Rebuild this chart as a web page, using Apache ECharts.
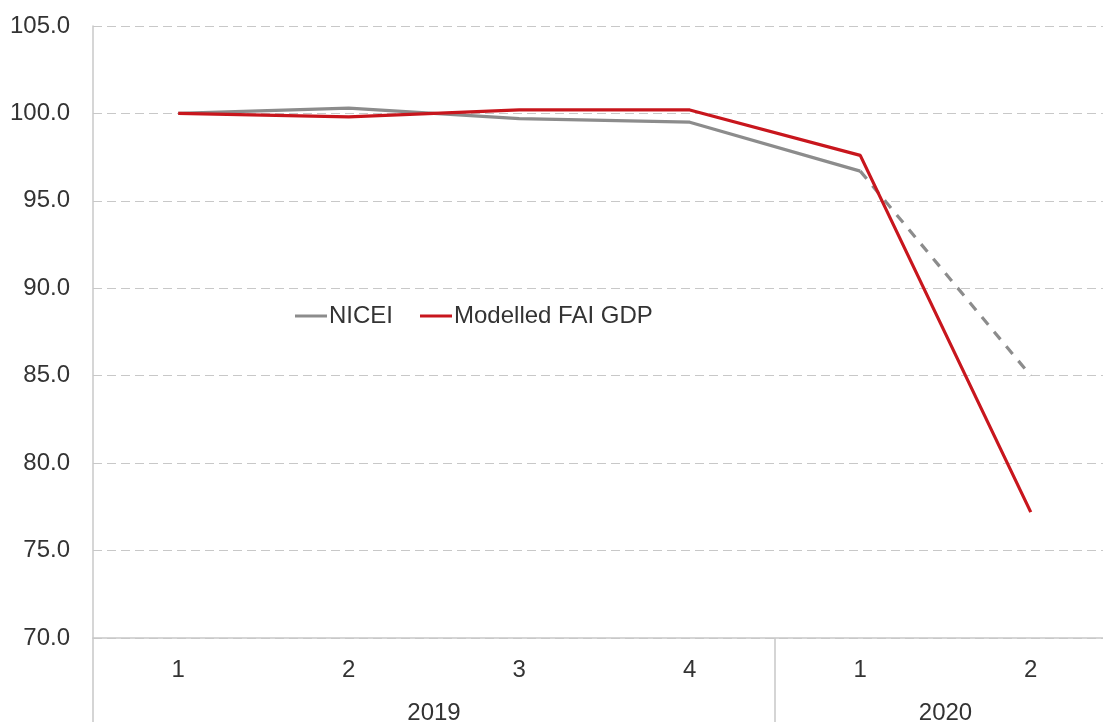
<!DOCTYPE html>
<html>
<head>
<meta charset="utf-8">
<script src="https://cdn.jsdelivr.net/npm/echarts@6/dist/echarts.min.js"></script>
<style>html,body{margin:0;padding:0;background:#fff;overflow:hidden;}#c{width:1103px;height:722px;}</style>
</head>
<body>
<div id="c"></div>
<script>
var quarters = ['1', '2', '3', '4', '1', '2'];
var years = ['2019', '2020'];
var quartersPerYear = [4, 2];
var niceiValues = [100.0, 100.3, 99.7, 99.5, 96.7, null];
var niceiProjection = [null, null, null, null, 96.7, 85.0];
var modelledValues = [100.0, 99.8, 100.2, 100.2, 97.6, 77.2];
var yTicks = { min: 70, max: 105, interval: 5 };

// Year axis: half-category slots (2 per quarter), year label at the middle of its block,
// separator ticks at the block boundaries.
var yearSlots = [];
var boundaryIdx = [0];
for (var i = 0; i <= quarters.length * 2; i++) yearSlots.push('');
var pos = 0;
years.forEach(function (y, k) {
  yearSlots[pos + quartersPerYear[k]] = y;
  pos += quartersPerYear[k] * 2;
  boundaryIdx.push(pos);
});

var chart = echarts.init(document.getElementById('c'), null, { renderer: 'canvas' });
var axisColor = '#c8c8c8';
var textColor = '#333333';
var fontFamily = 'Liberation Sans, Arial, sans-serif';
chart.setOption({
  animation: false,
  backgroundColor: '#ffffff',
  grid: { left: 93, right: -13, top: 26, bottom: 84, containLabel: false, outerBoundsMode: 'none' },
  legend: {
    data: ['NICEI', 'Modelled FAI GDP'],
    left: 295, top: 304, padding: 0,
    itemWidth: 32, itemHeight: 3, itemGap: 27,
    icon: 'rect',
    textStyle: { fontSize: 24, color: textColor, fontFamily: fontFamily, padding: [0, 0, 0, -3] }
  },
  xAxis: [{
    type: 'category',
    data: quarters,
    boundaryGap: true,
    axisLine: { show: true, lineStyle: { color: axisColor, width: 1.5 } },
    axisTick: { show: false },
    axisLabel: { fontSize: 24, color: textColor, fontFamily: fontFamily, margin: 20, interval: 0 },
    splitLine: { show: false }
  }, {
    type: 'category',
    data: yearSlots,
    boundaryGap: false,
    position: 'bottom',
    axisLine: { show: false },
    axisTick: {
      show: true, length: 84,
      interval: function (idx) { return boundaryIdx.indexOf(idx) >= 0; },
      lineStyle: { color: axisColor, width: 1.5 }
    },
    axisLabel: { fontSize: 24, color: textColor, fontFamily: fontFamily, margin: 63, interval: 0 },
    splitLine: { show: false }
  }],
  yAxis: {
    type: 'value',
    min: yTicks.min, max: yTicks.max, interval: yTicks.interval,
    axisLine: { show: true, lineStyle: { color: axisColor, width: 1.5 } },
    axisTick: { show: false },
    axisLabel: {
      fontSize: 24, color: textColor, fontFamily: fontFamily, margin: 23,
      formatter: function (v) { return v.toFixed(1); }
    },
    splitLine: { show: true, lineStyle: { color: axisColor, type: [9, 5], width: 1.2 } }
  },
  series: [{
    name: 'NICEI', type: 'line', data: niceiValues, xAxisIndex: 0,
    symbol: 'none', showSymbol: false, smooth: false,
    itemStyle: { color: '#8c8c8c' },
    lineStyle: { color: '#8c8c8c', width: 3.2 }
  }, {
    name: 'NICEI projection', type: 'line', data: niceiProjection, xAxisIndex: 0,
    symbol: 'none', showSymbol: false,
    itemStyle: { color: '#8c8c8c' },
    lineStyle: { color: '#8c8c8c', width: 3.2, type: [10, 9] }
  }, {
    name: 'Modelled FAI GDP', type: 'line', data: modelledValues, xAxisIndex: 0,
    symbol: 'none', showSymbol: false,
    itemStyle: { color: '#c8161d' },
    lineStyle: { color: '#c8161d', width: 3.2 }
  }]
});
</script>
</body>
</html>
